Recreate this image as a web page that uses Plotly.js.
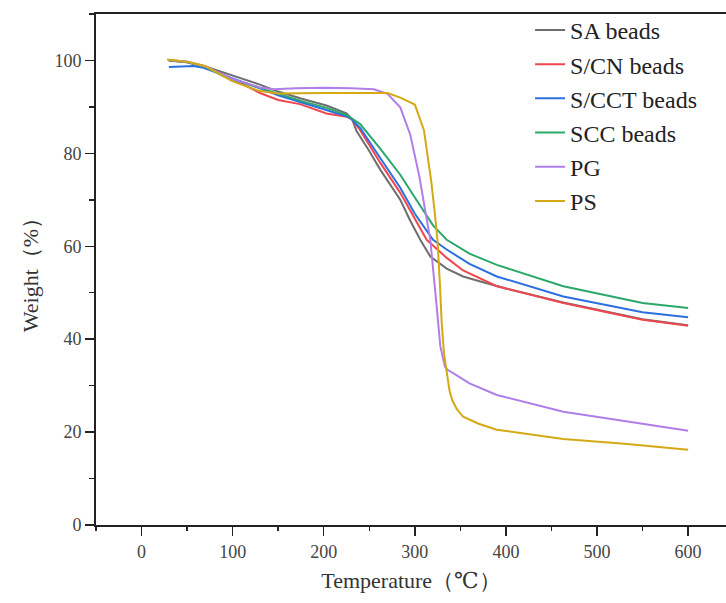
<!DOCTYPE html>
<html>
<head>
<meta charset="utf-8">
<script src="https://cdn.plot.ly/plotly-3.0.1.min.js"></script>
<style>html,body{margin:0;padding:0;background:#fff;overflow:hidden}</style>
</head>
<body>
<div id="chart" style="width:726px;height:603px"></div>
<script>
// Temperature (°C) and weight (%) for each sample
const saT  = [30, 50, 70, 100, 130, 150, 175, 203, 215, 225, 231, 236, 250, 262, 284, 295, 306, 317, 335, 353, 372, 400, 463, 550, 600];
const saW  = [100, 99.7, 98.7, 96.8, 94.8, 93.3, 91.8, 90.3, 89.4, 88.6, 87.4, 84.8, 80.5, 76.5, 70.0, 65.5, 61.4, 57.8, 55.2, 53.5, 52.4, 50.9, 47.9, 44.3, 43.0];

const cnT  = [30, 50, 70, 100, 130, 150, 174, 203, 225, 231, 240, 262, 284, 300, 313, 335, 353, 390, 463, 550, 600];
const cnW  = [100, 99.6, 98.6, 96.0, 93.0, 91.5, 90.6, 88.6, 87.9, 87.3, 85.0, 78.0, 71.5, 66.0, 61.4, 57.5, 54.8, 51.4, 47.8, 44.2, 42.9];

const cctT = [30, 57, 68, 100, 130, 150, 175, 203, 225, 231, 240, 262, 284, 300, 320, 335, 360, 390, 463, 550, 600];
const cctW = [98.6, 98.8, 98.4, 96.2, 94.0, 92.5, 91.0, 89.4, 88.0, 87.3, 85.5, 79.0, 72.6, 67.0, 61.4, 59.3, 56.2, 53.5, 49.2, 45.8, 44.7];

const sccT = [30, 50, 70, 93, 130, 150, 175, 203, 225, 231, 240, 262, 284, 300, 320, 335, 360, 390, 463, 550, 600];
const sccW = [100, 99.6, 98.6, 96.3, 94.1, 92.8, 91.3, 89.8, 88.3, 87.5, 86.3, 81.0, 75.4, 70.5, 64.5, 61.4, 58.4, 56.0, 51.4, 47.8, 46.7];

const pgT  = [30, 50, 70, 100, 130, 145, 170, 200, 230, 255, 270, 284, 295, 305, 312, 317, 324, 328, 333, 336, 342, 360, 390, 463, 530, 600];
const pgW  = [100.1, 99.7, 98.7, 96.0, 94.2, 93.8, 94.0, 94.1, 94.0, 93.8, 92.8, 89.9, 84.0, 75.0, 67.0, 61.4, 47.0, 38.5, 34.1, 33.4, 32.7, 30.5, 28.0, 24.4, 22.4, 20.3];

const psT  = [28, 50, 70, 100, 130, 150, 200, 250, 270, 284, 300, 310, 318, 322, 325, 327.5, 329.5, 332, 335, 338, 341, 346, 353, 370, 390, 463, 530, 600];
const psW  = [100.2, 99.7, 98.8, 95.5, 93.4, 92.9, 93.0, 93.1, 93.0, 92.0, 90.5, 85.0, 74.0, 67.0, 61.0, 52.0, 43.5, 37.0, 32.7, 29.0, 26.9, 25.0, 23.3, 21.8, 20.5, 18.5, 17.5, 16.2];

const names  = ['SA beads', 'S/CN beads', 'S/CCT beads', 'SCC beads', 'PG', 'PS'];
const xs     = [saT, cnT, cctT, sccT, pgT, psT];
const ys     = [saW, cnW, cctW, sccW, pgW, psW];
const colors = ['#6e6e6e', '#f0464e', '#2b6fe0', '#2aa86a', '#b07ee8', '#d4a915'];

const serif = '"Liberation Serif", "DejaVu Serif", serif';

const traces = names.map((n, i) => ({
  type: 'scatter', mode: 'lines', name: n,
  x: xs[i], y: ys[i],
  line: {color: colors[i], width: 2}
}));

const layout = {
  width: 726, height: 603,
  margin: {l: 96, r: 0, t: 14, b: 78},
  paper_bgcolor: '#fff', plot_bgcolor: '#fff',
  font: {family: serif, color: '#333'},
  showlegend: true,
  legend: {
    x: 0.689, xanchor: 'left', y: 1.012, yanchor: 'top',
    bgcolor: 'rgba(0,0,0,0)', borderwidth: 0,
    font: {family: serif, size: 24, color: '#222'}
  },
  xaxis: {
    range: [-50, 641.6], tick0: 0, dtick: 100,
    ticks: 'outside', ticklen: 9, tickwidth: 1.5, tickcolor: '#222',
    minor: {dtick: 50, ticks: 'outside', ticklen: 4, tickwidth: 1.5, tickcolor: '#222'},
    showline: true, linecolor: '#222', linewidth: 2, mirror: true,
    showgrid: false, zeroline: false,
    tickfont: {family: serif, size: 18, color: '#444'},
    title: {text: 'Temperature（℃）', font: {family: serif, size: 22, color: '#333'}, standoff: 12}
  },
  yaxis: {
    range: [0, 110], tick0: 0, dtick: 20,
    ticks: 'outside', ticklen: 9, tickwidth: 1.5, tickcolor: '#222',
    minor: {dtick: 10, ticks: 'outside', ticklen: 5, tickwidth: 1.5, tickcolor: '#222'},
    showline: true, linecolor: '#222', linewidth: 2, mirror: false,
    showgrid: false, zeroline: false,
    tickfont: {family: serif, size: 18, color: '#444'},
    title: {text: 'Weight（%）', font: {family: serif, size: 22, color: '#333'}, standoff: 10}
  }
};

Plotly.newPlot('chart', traces, layout, {displayModeBar: false, staticPlot: true});
</script>
</body>
</html>
